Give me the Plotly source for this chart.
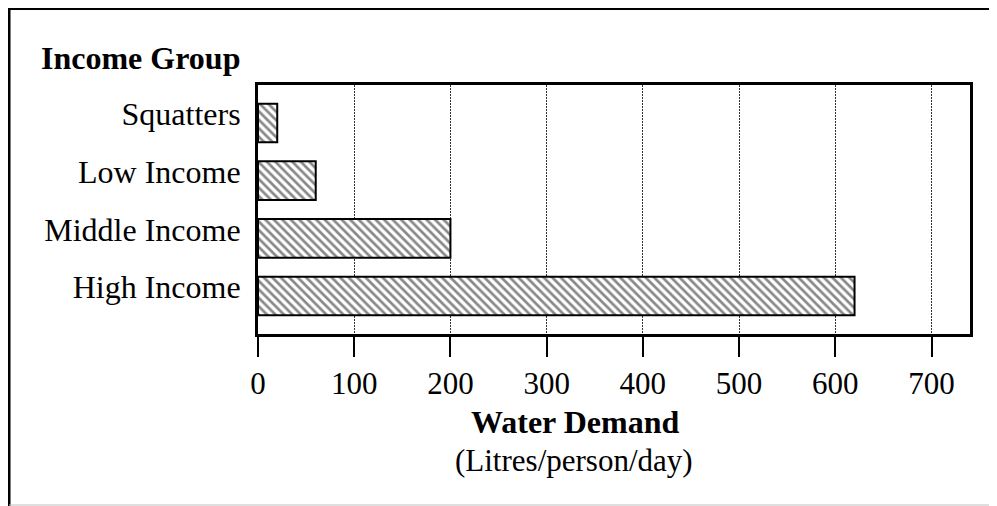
import plotly.graph_objects as go

categories = ["Squatters", "Low Income", "Middle Income", "High Income"]
demand = [20, 60, 200, 620]
x_ticks = [0, 100, 200, 300, 400, 500, 600, 700]

W, H = 997, 506
OFF = 8  # page body margin offset
L, R, T, B = 258 - OFF, 970 - OFF, 85 - OFF, 334 - OFF


def px(x):
    return (x - OFF - L) / (R - L)


def py(y):
    return (B - (y - OFF)) / (B - T)


FONT = "Liberation Serif, Times New Roman, serif"

fig = go.Figure()
fig.add_trace(go.Bar(
    y=categories,
    x=demand,
    orientation="h",
    width=0.67,
    marker=dict(
        color="white",
        line=dict(color="black", width=2),
        pattern=dict(shape="\\", fgcolor="#111111", bgcolor="white", size=6, solidity=0.45),
    ),
    hoverinfo="x+y",
))

fig.update_layout(
    width=W, height=H,
    margin=dict(l=L, r=W - R, t=T, b=H - B),
    paper_bgcolor="white",
    plot_bgcolor="white",
    showlegend=False,
    font=dict(family=FONT, color="black", size=31),
    xaxis=dict(
        range=[0, 740],
        tickvals=x_ticks,
        ticktext=[str(v) for v in x_ticks],
        ticks="outside", ticklen=20, tickwidth=2, tickcolor="black",
        showline=True, linecolor="black", linewidth=2.5, mirror=True,
        showgrid=True, gridcolor="#333333", gridwidth=1, griddash="2px,1px",
        zeroline=False,
        tickfont=dict(family=FONT, size=31, color="black"),
        ticklabelstandoff=0,
    ),
    yaxis=dict(
        categoryorder="array",
        categoryarray=categories[::-1],
        range=[-0.66, 3.66],
        ticks="",
        showline=True, linecolor="black", linewidth=3, mirror=True,
        showgrid=False, zeroline=False,
        tickfont=dict(family=FONT, size=32, color="black"),
        ticklabelstandoff=8,
        ticklabelshift=-9,
    ),
    annotations=[
        dict(text="<b>Income Group</b>", xref="paper", yref="paper",
             x=px(39), y=py(58), xanchor="left", yanchor="middle",
             showarrow=False, font=dict(family=FONT, size=32, color="black")),
        dict(text="<b>Water Demand</b>", xref="paper", yref="paper",
             x=px(575), y=py(422), xanchor="center", yanchor="middle",
             showarrow=False, font=dict(family=FONT, size=32, color="black")),
        dict(text="(Litres/person/day)", xref="paper", yref="paper",
             x=px(574), y=py(460), xanchor="center", yanchor="middle",
             showarrow=False, font=dict(family=FONT, size=31, color="black")),
    ],
    shapes=[
        dict(type="line", xref="paper", yref="paper",
             x0=px(9), x1=px(9), y0=py(7), y1=py(506),
             line=dict(color="black", width=3)),
        dict(type="line", xref="paper", yref="paper",
             x0=px(8), x1=px(997), y0=py(8.5), y1=py(8.5),
             line=dict(color="black", width=3)),
        dict(type="line", xref="paper", yref="paper",
             x0=px(9), x1=px(997), y0=py(505), y1=py(505),
             line=dict(color="#c0c0c0", width=1)),
    ],
)

fig.write_html("out.html")
